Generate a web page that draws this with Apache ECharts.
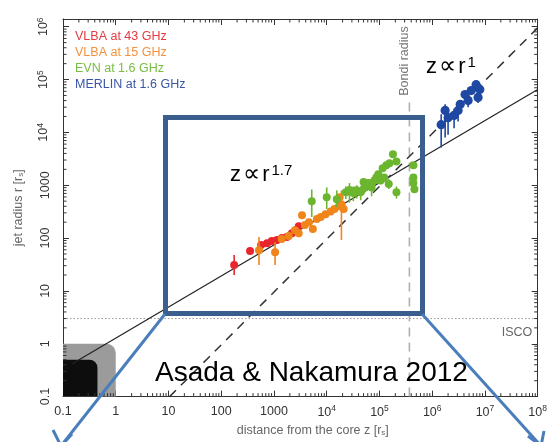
<!DOCTYPE html>
<html><head><meta charset="utf-8">
<script src="https://cdn.jsdelivr.net/npm/echarts@6/dist/echarts.min.js"></script>
<style>html,body{margin:0;padding:0;background:#fff}#c{width:550px;height:442px}</style>
</head><body><div id="c"></div>
<script>
// ---------- axis ranges & tick labels ----------
const X_MIN = 0.1, X_MAX = 1e8;
const Y_MIN = 0.1, Y_MAX = 1.4e6;
const xTickLabels = ['0.1','1','10','100','1000','10{s|4}','10{s|5}','10{s|6}','10{s|7}','10{s|8}'];
const yTickLabels = ['0.1','1','10','100','1000','10{s|4}','10{s|5}','10{s|6}'];

// ---------- series data (z [r_s], r [r_s], r low, r high) ----------
const vlba43Z  = [176, 352, 570, 740, 910, 1140, 1420, 1760, 2190, 2600, 2950];
const vlba43R  = [31, 57, 74, 80, 88, 92, 100, 105, 124, 141, 168];
const vlba43Lo = [20, 50, 66, 72, 80, 84, 92, 96, 112, 128, 150];
const vlba43Hi = [48, 66, 84, 90, 98, 102, 110, 116, 136, 156, 186];

const vlba15Z  = [520, 1050, 1400, 1900, 2500, 2950, 3400, 3850, 4600, 5450, 6500, 7700, 9500, 11900, 14000, 17000, 17600, 19000, 21000];
const vlba15R  = [59, 54, 96, 110, 140, 123, 270, 176, 200, 148, 229, 250, 283, 320, 355, 400, 590, 435, 355];
const vlba15Lo = [31, 31, 86, 98, 125, 110, 240, 158, 180, 132, 205, 225, 255, 290, 320, 360, 530, 92, 320];
const vlba15Hi = [105, 83, 107, 122, 156, 136, 300, 195, 222, 165, 255, 278, 315, 355, 395, 445, 655, 800, 395];

const evnZ  = [5200, 10000, 15500, 23000, 27000, 32000, 37000, 44000, 50000, 52000, 62000, 71000, 80000, 87000, 95000, 105000, 115000, 123000, 135000, 150000, 155000, 180000, 210000, 210000, 440000, 440000, 440000, 460000];
const evnR  = [500, 590, 545, 740, 810, 710, 805, 740, 1150, 910, 1100, 910, 1230, 1400, 1620, 1230, 2100, 1400, 2400, 1050, 2600, 3850, 2800, 740, 2400, 1400, 1100, 840];
const evnLo = [250, 355, 380, 550, 470, 500, 560, 520, 1000, 700, 850, 620, 1000, 1200, 1400, 1050, 1800, 1200, 2100, 850, 2300, 3400, 2450, 560, 2100, 1250, 980, 740];
const evnHi = [830, 910, 800, 950, 1100, 950, 1000, 950, 1300, 1150, 1300, 1150, 1500, 1600, 1850, 1420, 2400, 1600, 2750, 1300, 2950, 4300, 3200, 950, 2750, 1600, 1250, 950];

const merlinZ  = [1.48e6, 1.76e6, 2.0e6, 2.6e6, 3.1e6, 3.4e6, 4.2e6, 4.8e6, 5.5e6, 6.8e6, 8.0e6, 7.4e6];
const merlinR  = [1.4e4, 2.6e4, 1.9e4, 2.1e4, 2.6e4, 3.4e4, 5.2e4, 4.0e4, 6.2e4, 8.0e4, 6.5e4, 4.6e4];
const merlinLo = [5200, 8000, 9000, 1.2e4, 1.6e4, 2.6e4, 4.2e4, 3.0e4, 5.2e4, 6.8e4, 5.5e4, 3.6e4];
const merlinHi = [2.2e4, 3.4e4, 2.6e4, 2.8e4, 3.2e4, 4.0e4, 6.2e4, 4.8e4, 7.2e4, 9.2e4, 7.6e4, 5.6e4];

// ---------- reference lines & regions ----------
const fitParabolic = [[0.15, 0.42], [1e8, 6.5e4]];   // z ∝ r^1.7
const fitConical   = [[10.5, 0.1], [1e8, 9.5e5]];    // z ∝ r^1
const bondiLine    = [[3.7e5, 0.1], [3.7e5, 4.5e4]];
const iscoLine     = [[0.1, 3], [1e8, 3]];
const regionGray   = [[0.1, 0.1, 1, 1]];
const regionBlack  = [[0.1, 0.1, 0.45, 0.5]];

const seriesNames = ['VLBA at 43 GHz', 'VLBA at 15 GHz', 'EVN at 1.6 GHz', 'MERLIN at 1.6 GHz'];
const seriesColors = ['#e8262c', '#f0851c', '#6cb52e', '#1f48a2'];
const legendColors = ['#e53a40', '#f39140', '#79bd45', '#3a56a6'];

const FONT = '"Liberation Sans", Arial, sans-serif';

function zip4(z, r, lo, hi) { return z.map((v, i) => [v, r[i], lo[i], hi[i]]); }
function minorValues(lo, hi) {
  const out = [];
  for (let k = Math.floor(Math.log10(lo)); k <= Math.ceil(Math.log10(hi)); k++) {
    for (let m = 2; m <= 9; m++) { const v = m * Math.pow(10, k); if (v > lo && v < hi) out.push(v); }
  }
  return out;
}
function logLabel(labels) {
  return function (v) {
    const l = Math.log10(v), e = Math.round(l);
    if (Math.abs(l - e) > 1e-6) return '';
    return labels[e + 1] || '';
  };
}

function errRender(color, rad) {
  return function (params, api) {
    const p = api.coord([api.value(0), api.value(1)]);
    const lo = api.coord([api.value(0), api.value(2)]);
    const hi = api.coord([api.value(0), api.value(3)]);
    return { type: 'group', children: [
      { type: 'line', shape: { x1: p[0], y1: lo[1], x2: p[0], y2: hi[1] }, style: { stroke: color, lineWidth: 1.6 } },
      { type: 'circle', shape: { cx: p[0], cy: p[1], r: rad }, style: { fill: color } }
    ]};
  };
}
function regionRender(color, rad) {
  return function (params, api) {
    const a = api.coord([api.value(0), api.value(1)]);
    const b = api.coord([api.value(2), api.value(3)]);
    return { type: 'rect', shape: { x: a[0], y: b[1], width: b[0] - a[0], height: a[1] - b[1], r: [0, rad, 0, 0] }, style: { fill: color } };
  };
}

const chart = echarts.init(document.getElementById('c'));

const dataSeries = [
  [vlba43Z, vlba43R, vlba43Lo, vlba43Hi],
  [vlba15Z, vlba15R, vlba15Lo, vlba15Hi],
  [evnZ, evnR, evnLo, evnHi],
  [merlinZ, merlinR, merlinLo, merlinHi]
].map((d, i) => ({
  name: seriesNames[i], type: 'custom', z: 5,
  encode: { x: 0, y: 1 },
  renderItem: errRender(seriesColors[i], i === 3 ? 4.6 : 4),
  data: zip4(d[0], d[1], d[2], d[3])
}));

const axisCommon = {
  type: 'log', logBase: 10,
  axisLine: { show: true, lineStyle: { color: '#333', width: 1 } },
  axisTick: { show: true, inside: true, length: 6, lineStyle: { color: '#333' } },
  splitLine: { show: false }
};

const annoRich = {
  a: { fontSize: 22, fontFamily: FONT, color: '#000', verticalAlign: 'middle' },
  b: { fontSize: 24, fontFamily: '"DejaVu Sans", sans-serif', color: '#000', verticalAlign: 'middle', padding: [0, 2, 0, 2] },
  c: { fontSize: 15, fontFamily: FONT, color: '#000', verticalAlign: 'top', padding: [0, 0, 0, 2] }
};

const option = {
  animation: false,
  backgroundColor: '#fff',
  grid: { left: 63, right: 10, top: 19, bottom: 42 },
  legend: {
    orient: 'vertical', left: 65, top: 25, icon: 'none', itemWidth: 0, itemHeight: 14, itemGap: 2.5,
    selectedMode: false,
    textStyle: { fontFamily: FONT, fontSize: 12.5 },
    data: seriesNames.map((n, i) => ({ name: n, textStyle: { color: legendColors[i] } }))
  },
  xAxis: [
    Object.assign({}, axisCommon, {
      position: 'bottom', min: X_MIN, max: X_MAX,
      axisLabel: { margin: 8, color: '#333', fontFamily: FONT, fontSize: 12.5, formatter: logLabel(xTickLabels),
        rich: { s: { fontSize: 8.5, padding: [0, 0, 7, 0], color: '#333', fontFamily: FONT } } },
      name: 'distance from the core z [r{sub|s}]', nameLocation: 'middle', nameGap: 25,
      nameTextStyle: { color: '#666', fontFamily: FONT, fontSize: 12.5, padding: [0, 0, 0, 25],
        rich: { sub: { fontSize: 8, padding: [5, 0, 0, 0], color: '#666', fontFamily: FONT } } }
    }),
    Object.assign({}, axisCommon, { position: 'top', min: X_MIN, max: X_MAX, axisLabel: { show: false } })
  ],
  yAxis: [
    Object.assign({}, axisCommon, {
      position: 'left', min: Y_MIN, max: Y_MAX,
      axisLabel: { margin: 11, rotate: 90, color: '#333', fontFamily: FONT, fontSize: 12.5, formatter: logLabel(yTickLabels),
        rich: { s: { fontSize: 8.5, padding: [0, 0, 7, 0], color: '#333', fontFamily: FONT } } },
      name: 'jet radius r [r{sub|s}]', nameLocation: 'middle', nameGap: 38,
      nameTextStyle: { color: '#666', fontFamily: FONT, fontSize: 12.5,
        rich: { sub: { fontSize: 8, padding: [5, 0, 0, 0], color: '#666', fontFamily: FONT } } }
    }),
    Object.assign({}, axisCommon, { position: 'right', min: Y_MIN, max: Y_MAX, axisLabel: { show: false } })
  ],
  series: [
    { type: 'custom', name: 'gray', z: 1, encode: { x: 0, y: 1 }, renderItem: regionRender('#9b9b9b', 9), data: regionGray },
    { type: 'custom', name: 'black', z: 2, encode: { x: 0, y: 1 }, renderItem: regionRender('#0d0d0d', 8), data: regionBlack },
    { type: 'line', name: 'isco', z: 3, data: iscoLine, showSymbol: false, lineStyle: { color: '#9a9a9a', width: 1, type: [1.5, 2] } },
    { type: 'line', name: 'bondi', z: 3, data: bondiLine, showSymbol: false, lineStyle: { color: '#b0b0b0', width: 1.6, type: [9, 6] } },
    { type: 'line', name: 'fit17', z: 4, data: fitParabolic, showSymbol: false, lineStyle: { color: '#222', width: 1.2 } },
    { type: 'line', name: 'fit1', z: 4, data: fitConical, showSymbol: false, lineStyle: { color: '#333', width: 1.5, type: [9, 7] } },
    ...dataSeries,
    { type: 'custom', name: 'xminor', z: 6, encode: { x: 0, y: 1 },
      data: minorValues(X_MIN, X_MAX).map(v => [v, 1]),
      renderItem: function (params, api) {
        const v = api.value(0);
        const b = api.coord([v, Y_MIN]), t = api.coord([v, Y_MAX]);
        return { type: 'group', children: [
          { type: 'line', shape: { x1: b[0], y1: b[1], x2: b[0], y2: b[1] - 3.5 }, style: { stroke: '#333', lineWidth: 1 } },
          { type: 'line', shape: { x1: t[0], y1: t[1], x2: t[0], y2: t[1] + 3.5 }, style: { stroke: '#333', lineWidth: 1 } }
        ]};
      } },
    { type: 'custom', name: 'yminor', z: 6, encode: { x: 0, y: 1 },
      data: minorValues(Y_MIN, Y_MAX).map(v => [1, v]),
      renderItem: function (params, api) {
        const v = api.value(1);
        const l = api.coord([X_MIN, v]), r = api.coord([X_MAX, v]);
        return { type: 'group', children: [
          { type: 'line', shape: { x1: l[0], y1: l[1], x2: l[0] + 3.5, y2: l[1] }, style: { stroke: '#333', lineWidth: 1 } },
          { type: 'line', shape: { x1: r[0], y1: r[1], x2: r[0] - 3.5, y2: r[1] }, style: { stroke: '#333', lineWidth: 1 } }
        ]};
      } }
  ],
  graphic: [
    { type: 'text', z: 50, x: 405, y: 61, rotation: Math.PI / 2,
      style: { text: 'Bondi radius', fill: '#777', font: '12.5px ' + FONT, align: 'center', verticalAlign: 'middle' } },
    { type: 'text', z: 50, x: 517, y: 333,
      style: { text: 'ISCO', fill: '#666', font: '12.5px ' + FONT, align: 'center', verticalAlign: 'middle' } },
    { type: 'rect', z: 60, shape: { x: 165.5, y: 117.5, width: 257, height: 196 },
      style: { fill: null, stroke: '#3a5f8f', lineWidth: 5 } },
    { type: 'polyline', z: 61, shape: { points: [[165, 314], [61, 446]] }, style: { stroke: '#4a7ebb', lineWidth: 3, fill: null } },
    { type: 'polyline', z: 61, shape: { points: [[53, 430], [61, 446], [72, 434]] }, style: { stroke: '#4a7ebb', lineWidth: 3, fill: null } },
    { type: 'polyline', z: 61, shape: { points: [[422, 314], [541, 446]] }, style: { stroke: '#4a7ebb', lineWidth: 3, fill: null } },
    { type: 'polyline', z: 61, shape: { points: [[528, 436], [541, 446], [544, 431]] }, style: { stroke: '#4a7ebb', lineWidth: 3, fill: null } },
    { type: 'text', z: 62, x: 230, y: 175,
      style: { text: '{a|z}{b|∝}{a|r}{c|1.7}', rich: annoRich, align: 'left', verticalAlign: 'middle' } },
    { type: 'text', z: 62, x: 426, y: 67,
      style: { text: '{a|z}{b|∝}{a|r}{c|1}', rich: annoRich, align: 'left', verticalAlign: 'middle' } },
    { type: 'text', z: 62, x: 155, y: 373,
      style: { text: 'Asada & Nakamura 2012', fill: '#000', font: '28px ' + FONT, align: 'left', verticalAlign: 'middle' } }
  ]
};
chart.setOption(option);
</script>
</body></html>
